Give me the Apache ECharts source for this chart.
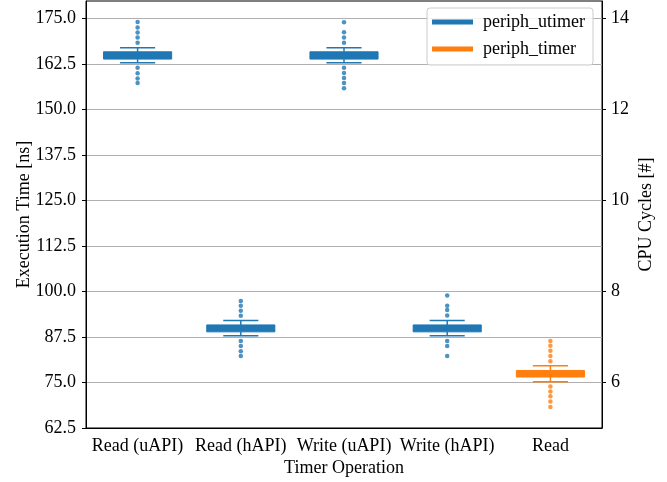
<!DOCTYPE html>
<html>
<head>
<meta charset="utf-8">
<script src="https://cdn.jsdelivr.net/npm/echarts@6/dist/echarts.min.js"></script>
<style>html,body{margin:0;padding:0;background:#fff;}#chart{width:667px;height:482px;}</style>
</head>
<body>
<div id="chart"></div>
<script>
const categories = ['Read (uAPI)', 'Read (hAPI)', 'Write (uAPI)', 'Write (hAPI)', 'Read'];
const leftTicks = [62.5, 75.0, 87.5, 100.0, 112.5, 125.0, 137.5, 150.0, 162.5, 175.0];
const rightTicks = [6, 8, 10, 12, 14];

// periph_utimer boxes (categories 0..3)
const utimerCat = [0, 1, 2, 3];
const utimerQ1 = [163.8, 88.9, 163.8, 88.9];
const utimerQ3 = [165.8, 90.8, 165.8, 90.8];
const utimerLow = [162.8, 87.8, 162.8, 87.8];
const utimerHigh = [166.9, 92.0, 166.9, 92.0];

// periph_timer box (category 4)
const timerCat = [4];
const timerQ1 = [76.5];
const timerQ3 = [78.3];
const timerLow = [75.2];
const timerHigh = [79.6];

// outliers
const outReadU = [174.0, 172.5, 171.1, 169.7, 168.3, 161.4, 159.9, 158.5, 157.2];
const outReadH = [97.4, 96.1, 94.7, 93.3, 86.4, 85.0, 83.6, 82.3];
const outWriteU = [173.9, 171.2, 169.7, 168.3, 161.4, 160.0, 158.6, 157.2, 155.8];
const outWriteH = [98.9, 96.1, 94.9, 93.4, 86.4, 85.0, 82.3];
const outTimerRead = [86.4, 85.1, 83.7, 82.3, 80.8, 73.9, 72.5, 71.2, 69.8, 68.3];

const BLUE = '#1f77b4', ORANGE = '#ff7f0e';
const FONT = "'Liberation Serif', 'Times New Roman', serif";
const FS = 18;

function boxData(cat, q1, q3, lo, hi) {
  return cat.map((c, i) => [c, q1[i], q3[i], lo[i], hi[i]]);
}
function outData(cat, vals) { return vals.map(v => [cat, v]); }

function renderBox(color) {
  return function (params, api) {
    const x = api.value(0);
    const bw = api.size([1, 0])[0];
    const pQ1 = api.coord([x, api.value(1)]);
    const pQ3 = api.coord([x, api.value(2)]);
    const pLo = api.coord([x, api.value(3)]);
    const pHi = api.coord([x, api.value(4)]);
    const cx = pQ1[0];
    const half = bw * 0.33;
    const cap = bw * 0.17;
    const ls = { stroke: color, lineWidth: 1.5 };
    return {
      type: 'group',
      children: [
        { type: 'line', shape: { x1: cx, y1: pQ3[1], x2: cx, y2: pHi[1] }, style: ls },
        { type: 'line', shape: { x1: cx, y1: pQ1[1], x2: cx, y2: pLo[1] }, style: ls },
        { type: 'line', shape: { x1: cx - cap, y1: pHi[1], x2: cx + cap, y2: pHi[1] }, style: ls },
        { type: 'line', shape: { x1: cx - cap, y1: pLo[1], x2: cx + cap, y2: pLo[1] }, style: ls },
        { type: 'rect', shape: { x: cx - half, y: pQ3[1], width: half * 2, height: pQ1[1] - pQ3[1] },
          style: { fill: color, stroke: color, lineWidth: 1 } }
      ]
    };
  };
}

const chart = echarts.init(document.getElementById('chart'), null, { renderer: 'canvas' });
const scatterCommon = { type: 'scatter', symbol: 'circle', symbolSize: 4.5, silent: true, z: 3 };
chart.setOption({
  animation: false,
  backgroundColor: '#fff',
  textStyle: { fontFamily: FONT },
  grid: { left: 86, right: 65, top: 1, bottom: 54, show: true, borderColor: '#000', borderWidth: 1, backgroundColor: 'transparent' },
  legend: {
    data: [{ name: 'periph_utimer', icon: 'rect' }, { name: 'periph_timer', icon: 'rect' }],
    orient: 'vertical', right: 74, top: 8,
    itemWidth: 41, itemHeight: 5, itemGap: 9,
    padding: [5, 8, 7, 5],
    backgroundColor: 'rgba(255,255,255,0.85)', borderColor: '#cccccc', borderWidth: 1, borderRadius: 3,
    textStyle: { fontFamily: FONT, fontSize: FS, color: '#000', padding: [0, 0, 0, 5] },
    z: 10
  },
  xAxis: {
    type: 'category', data: categories, boundaryGap: true,
    name: 'Timer Operation', nameLocation: 'middle', nameGap: 31, nameMoveOverlap: false,
    nameTextStyle: { fontFamily: FONT, fontSize: FS, color: '#000' },
    axisLine: { lineStyle: { color: '#000', width: 1 } },
    axisTick: { alignWithLabel: true, length: 4, lineStyle: { color: '#000' } },
    axisLabel: { fontFamily: FONT, fontSize: FS, color: '#000', margin: 9, interval: 0 },
    splitLine: { show: false }
  },
  yAxis: [
    {
      type: 'value', min: 62.5, max: 179.75, interval: 12.5, position: 'left',
      name: 'Execution Time [ns]', nameLocation: 'middle', nameGap: 53, nameRotate: 90, nameMoveOverlap: false,
      nameTextStyle: { fontFamily: FONT, fontSize: FS, color: '#000' },
      axisLine: { show: true, lineStyle: { color: '#000', width: 1 } },
      axisTick: { show: true, length: 4, lineStyle: { color: '#000' }, customValues: leftTicks },
      axisLabel: { fontFamily: FONT, fontSize: FS, color: '#000', margin: 10, customValues: leftTicks,
        formatter: v => v.toFixed(1) },
      splitLine: { show: true, lineStyle: { color: '#b0b0b0', width: 1 } }
    },
    {
      type: 'value', min: 5, max: 14.38, position: 'right',
      name: 'CPU Cycles [#]', nameLocation: 'middle', nameGap: 35, nameRotate: 90, nameMoveOverlap: false,
      nameTextStyle: { fontFamily: FONT, fontSize: FS, color: '#000' },
      axisLine: { show: true, lineStyle: { color: '#000', width: 1 } },
      axisTick: { show: true, length: 4, lineStyle: { color: '#000' }, customValues: rightTicks },
      axisLabel: { fontFamily: FONT, fontSize: FS, color: '#000', margin: 9, customValues: rightTicks },
      splitLine: { show: false }
    }
  ],
  series: [
    {
      name: 'periph_utimer', type: 'custom', renderItem: renderBox(BLUE),
      itemStyle: { color: BLUE }, encode: { x: 0, y: [1, 2, 3, 4] },
      data: boxData(utimerCat, utimerQ1, utimerQ3, utimerLow, utimerHigh), z: 4
    },
    {
      name: 'periph_timer', type: 'custom', renderItem: renderBox(ORANGE),
      itemStyle: { color: ORANGE }, encode: { x: 0, y: [1, 2, 3, 4] },
      data: boxData(timerCat, timerQ1, timerQ3, timerLow, timerHigh), z: 4
    },
    Object.assign({ name: 'periph_utimer', itemStyle: { color: BLUE }, data: outData(0, outReadU) }, scatterCommon),
    Object.assign({ name: 'periph_utimer', itemStyle: { color: BLUE }, data: outData(1, outReadH) }, scatterCommon),
    Object.assign({ name: 'periph_utimer', itemStyle: { color: BLUE }, data: outData(2, outWriteU) }, scatterCommon),
    Object.assign({ name: 'periph_utimer', itemStyle: { color: BLUE }, data: outData(3, outWriteH) }, scatterCommon),
    Object.assign({ name: 'periph_timer', itemStyle: { color: ORANGE }, data: outData(4, outTimerRead) }, scatterCommon)
  ]
});
</script>
</body>
</html>
